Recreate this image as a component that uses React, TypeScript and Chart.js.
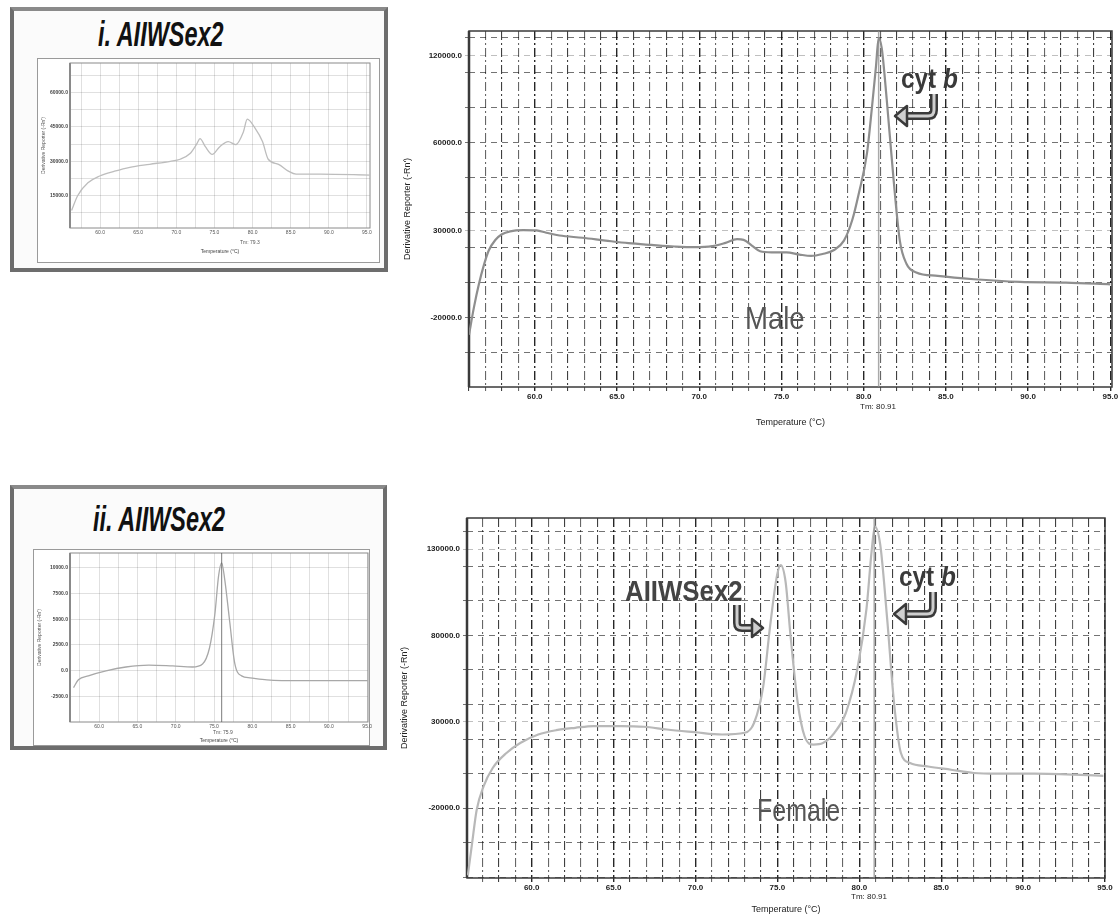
import React, { useEffect, useRef } from "react";
import { Chart, registerables } from "chart.js";

Chart.register(...registerables);

// ---------------- data ----------------
// Male (top, large): derivative melt curve
const maleTemp = [56.0, 56.3, 56.6, 56.9, 57.2, 57.6, 58.0, 58.5, 59.3, 60.1, 60.7, 61.5, 62.9, 64.3, 65.7, 67.1, 68.5, 69.7, 70.8, 71.6, 72.3, 72.7, 73.2, 73.7, 74.4, 75.3, 76.1, 76.8, 77.5, 78.2, 78.8, 79.3, 79.7, 80.2, 80.5, 80.75, 80.91, 81.1, 81.4, 81.8, 82.2, 82.6, 83.2, 84.5, 86.7, 89.5, 92.3, 95.0];
const maleDeriv = [-29600, -14000, -800, 10000, 18500, 24500, 27800, 29500, 30200, 30000, 28700, 27100, 25800, 24200, 22700, 21700, 20800, 20400, 21000, 22900, 25000, 24600, 21300, 18100, 17500, 17500, 16200, 15400, 16500, 18800, 24200, 35800, 51000, 74000, 100000, 124000, 140000, 134000, 105000, 61000, 24000, 11000, 6000, 4000, 2100, 600, 200, -800];

// Female (bottom, large)
const femaleTemp = [56.1, 56.36, 56.64, 57.06, 57.62, 58.46, 59.3, 60.4, 61.5, 62.66, 63.78, 65.46, 66.86, 68.26, 69.94, 71.62, 73.0, 73.58, 74.14, 74.56, 74.98, 75.2, 75.5, 75.8, 76.24, 76.66, 77.2, 77.78, 78.48, 79.18, 79.88, 80.44, 80.75, 80.95, 81.28, 81.7, 82.12, 82.54, 83.1, 84.2, 85.6, 87.0, 88.4, 90.7, 94.9];
const femaleDeriv = [-59000, -40500, -21100, -7500, 3200, 11900, 17700, 22600, 25100, 26500, 27500, 27500, 27100, 25500, 24000, 22600, 23600, 29400, 50800, 85800, 114900, 120700, 111000, 80000, 41000, 21600, 16800, 17700, 23600, 35200, 60500, 95500, 128500, 143000, 132400, 89700, 41000, 11900, 6100, 4100, 2200, 300, -100, -100, -1300];

// Inset i (AIIWSex2 only, male)
const insetITemp = [56.26, 57.05, 58.4, 59.95, 61.9, 63.9, 66.5, 69.2, 70.5, 71.8, 72.7, 73.1, 73.8, 74.7, 75.7, 76.8, 77.8, 78.8, 79.3, 80.3, 81.3, 82.05, 83.4, 84.7, 85.7, 88.9, 95.4];
const insetIDeriv = [8570, 15000, 20600, 23600, 25700, 27400, 28700, 30000, 30900, 33400, 37700, 39900, 36400, 33000, 36400, 38600, 37300, 42900, 48400, 44600, 38600, 30900, 28700, 25700, 24400, 24400, 24000];

// Inset ii (AIIWSex2 only, female)
const insetIITemp = [56.66, 57.3, 58.6, 60.9, 63.5, 66.5, 69.6, 72.2, 73.5, 74.4, 75.1, 75.6, 76.0, 76.4, 77.05, 77.7, 78.6, 79.7, 81.9, 86.3, 90.6, 95.1];
const insetIIDeriv = [-1640, -880, -500, -20, 360, 550, 460, 360, 650, 2180, 5420, 9240, 10480, 8850, 4750, 740, -500, -690, -880, -970, -970, -970];

// tick labels
const xTickValues = [60, 65, 70, 75, 80, 85, 90, 95];
const bigYTickValues = [-20000, 30000, 80000, 130000];
const maleYTickLabels = ["-20000.0", "30000.0", "60000.0", "120000.0"];
const femaleYTickLabels = ["-20000.0", "30000.0", "80000.0", "130000.0"];
const insetIYTickValues = [15000, 30000, 45000, 60000];
const insetIYTickLabels = ["15000.0", "30000.0", "45000.0", "60000.0"];
const insetIIYTickValues = [-2500, 0, 2500, 5000, 7500, 10000];
const insetIIYTickLabels = ["-2500.0", "0.0", "2500.0", "5000.0", "7500.0", "10000.0"];
const maleTm = 80.91;
const femaleTm = 80.91;
const insetIITm = 76.0;

// ---------------- helpers ----------------
const SANS = '"Liberation Sans", Arial, sans-serif';
const NARROW = '"Liberation Sans Narrow", "Liberation Sans", Arial, sans-serif';

const framePlugin = {
  id: "frame",
  beforeDatasetsDraw(chart: any, _a: any, opts: any) {
    const { ctx, chartArea: a } = chart;
    ctx.save();
    ctx.strokeStyle = opts.color || "#333";
    ctx.lineWidth = opts.width || 1;
    ctx.strokeRect(a.left, a.top, a.right - a.left, a.bottom - a.top);
    if (opts.leftWidth) {
      ctx.lineWidth = opts.leftWidth;
      ctx.beginPath();
      ctx.moveTo(a.left, a.top);
      ctx.lineTo(a.left, a.bottom);
      ctx.stroke();
    }
    ctx.restore();
  },
};

function toPoints(t: number[], v: number[]) {
  return t.map((x, i) => ({ x, y: v[i] }));
}

function range(from: number, to: number, step: number) {
  const out: number[] = [];
  for (let v = Math.ceil(from / step) * step; v <= to + 1e-9; v += step) out.push(Math.round(v * 1000) / 1000);
  return out;
}

function bigConfig(o: any) {
  const gridX = range(o.xr[0], o.xr[1], 1);
  const gridY = range(o.yr[0], o.yr[1], 20000);
  o.yVals.forEach((v: number) => { if (!gridY.includes(v)) gridY.push(v); });
  gridY.sort((a, b) => a - b);
  return {
    type: "line",
    data: {
      datasets: [
        {
          data: [{ x: o.tm, y: o.yr[0] }, { x: o.tm, y: o.yr[1] }],
          borderColor: "rgba(140,140,140,0.75)",
          borderWidth: 1.5,
          pointRadius: 0,
        },
        {
          data: toPoints(o.temps, o.vals),
          borderColor: o.color,
          borderWidth: 2.2,
          pointRadius: 0,
          cubicInterpolationMode: "monotone",
        },
      ],
    },
    options: {
      responsive: false,
      animation: false,
      events: [],
      layout: { padding: { top: o.pt, right: o.pr, left: 0, bottom: 0 } },
      plugins: {
        legend: { display: false },
        tooltip: { enabled: false },
        frame: { color: "#3a3a3a", width: 1.5, leftWidth: 2.5 },
      },
      scales: {
        x: {
          type: "linear",
          min: o.xr[0],
          max: o.xr[1],
          afterBuildTicks: (s: any) => { s.ticks = gridX.map((v) => ({ value: v })); },
          afterFit: (s: any) => { s.height = o.xh; },
          ticks: {
            autoSkip: false,
            maxRotation: 0,
            padding: 1,
            color: "#222",
            font: { family: NARROW, size: 8, weight: "bold" },
            callback: (v: number) => (xTickValues.includes(v) ? Number(v).toFixed(1) : ""),
          },
          grid: {
            color: (c: any) => {
              const v = c.tick ? c.tick.value : 0;
              if (v % 5 === 0) return "rgba(0,0,0,0.85)";
              return v % 2 === 0 ? "rgba(0,0,0,0.75)" : "rgba(0,0,0,0.6)";
            },
            lineWidth: (c: any) => (c.tick && c.tick.value % 5 === 0 ? 1.4 : 1.1),
            tickLength: 4,
          },
          border: { display: false, dash: [9, 3, 2, 3] },
          title: {
            display: true,
            text: "Temperature (°C)",
            color: "#222",
            font: { family: NARROW, size: 9 },
            padding: { top: 0, bottom: o.xtpb },
          },
        },
        y: {
          type: "linear",
          min: o.yr[0],
          max: o.yr[1],
          afterBuildTicks: (s: any) => { s.ticks = gridY.map((v) => ({ value: v })); },
          afterFit: (s: any) => { s.width = o.yw; },
          ticks: {
            autoSkip: false,
            padding: 3,
            color: "#222",
            font: { family: NARROW, size: 8, weight: "bold" },
            callback: (v: number) => {
              const i = o.yVals.indexOf(v);
              return i >= 0 ? o.yLabels[i] : "";
            },
          },
          grid: {
            color: (c: any) => (c.tick && c.tick.value % 20000 === 0 ? "rgba(0,0,0,0.55)" : "rgba(0,0,0,0.25)"),
            lineWidth: 1,
            tickLength: 4,
          },
          border: { display: false, dash: [6, 5] },
          title: {
            display: true,
            text: "Derivative Reporter (-Rn')",
            color: "#222",
            font: { family: NARROW, size: 9 },
            padding: { top: o.ytpt, bottom: 0 },
          },
        },
      },
    },
    plugins: [framePlugin],
  };
}

function insetConfig(o: any) {
  const gridX = range(o.xr[0], o.xr[1], 2.5);
  const gridY = range(o.yr[0], o.yr[1], o.yStep);
  const datasets: any[] = [];
  if (o.tm) {
    datasets.push({
      data: [{ x: o.tm, y: o.yr[0] }, { x: o.tm, y: o.yr[1] }],
      borderColor: "rgba(90,90,90,0.8)",
      borderWidth: 1,
      pointRadius: 0,
    });
  }
  datasets.push({
    data: toPoints(o.temps, o.vals),
    borderColor: o.color,
    borderWidth: 1.3,
    pointRadius: 0,
    cubicInterpolationMode: "monotone",
  });
  return {
    type: "line",
    data: { datasets },
    options: {
      responsive: false,
      animation: false,
      events: [],
      layout: { padding: { top: o.pt, right: o.pr, left: 0, bottom: 0 } },
      plugins: {
        legend: { display: false },
        tooltip: { enabled: false },
        frame: { color: "#8a8a8a", width: 1, leftWidth: 2 },
      },
      scales: {
        x: {
          type: "linear",
          min: o.xr[0],
          max: o.xr[1],
          afterBuildTicks: (s: any) => { s.ticks = gridX.map((v) => ({ value: v })); },
          afterFit: (s: any) => { s.height = o.xh; },
          ticks: {
            autoSkip: false,
            maxRotation: 0,
            padding: 2,
            color: "#555",
            font: { family: SANS, size: 5 },
            callback: (v: number) => (xTickValues.includes(v) ? Number(v).toFixed(1) : ""),
          },
          grid: { color: "rgba(0,0,0,0.12)", lineWidth: 1, drawTicks: false },
          border: { display: false },
          title: {
            display: true,
            text: "Temperature (°C)",
            color: "#444",
            font: { family: SANS, size: 5 },
            padding: { top: 0, bottom: o.xtpb },
          },
        },
        y: {
          type: "linear",
          min: o.yr[0],
          max: o.yr[1],
          afterBuildTicks: (s: any) => { s.ticks = gridY.map((v) => ({ value: v })); },
          afterFit: (s: any) => { s.width = o.yw; },
          ticks: {
            autoSkip: false,
            padding: 2,
            color: "#444",
            font: { family: SANS, size: 5, weight: "bold" },
            callback: (v: number) => {
              const i = o.yVals.indexOf(v);
              return i >= 0 ? o.yLabels[i] : "";
            },
          },
          grid: { color: "rgba(0,0,0,0.12)", lineWidth: 1, drawTicks: false },
          border: { display: false },
          title: {
            display: true,
            text: "Derivative Reporter (-Rn')",
            color: "#555",
            font: { family: SANS, size: 5 },
            padding: { top: o.ytpt, bottom: 0 },
          },
        },
      },
    },
    plugins: [framePlugin],
  };
}

function ChartCanvas({ x, y, w, h, make }: any) {
  const ref = useRef<HTMLCanvasElement>(null);
  useEffect(() => {
    const chart = new Chart(ref.current as HTMLCanvasElement, make() as any);
    return () => chart.destroy();
  }, []);
  return (
    <canvas
      ref={ref}
      width={w}
      height={h}
      style={{ position: "absolute", left: x, top: y, width: w, height: h }}
    />
  );
}

const abs = (left: number, top: number, extra: any = {}) => ({
  position: "absolute" as const,
  left,
  top,
  whiteSpace: "nowrap" as const,
  lineHeight: 1,
  ...extra,
});

function HookArrow({ dx = 0, dy = 0 }: { dx?: number; dy?: number }) {
  // hollow "return" arrow pointing left
  const d = `M ${934 + dx} ${94 + dy} L ${934 + dx} ${110 + dy} Q ${934 + dx} ${116 + dy} ${928 + dx} ${116 + dy} L ${906 + dx} ${116 + dy}`;
  const head = `${895 + dx},${116 + dy} ${907 + dx},${106 + dy} ${907 + dx},${126 + dy}`;
  return (
    <g>
      <path d={d} stroke="#3a3a3a" strokeWidth={8} fill="none" />
      <path d={d} stroke="#cfcfcf" strokeWidth={3} fill="none" />
      <polygon points={head} fill="#cfcfcf" stroke="#3a3a3a" strokeWidth={2.5} strokeLinejoin="round" />
    </g>
  );
}

const titleStyle = { fontFamily: NARROW, fontWeight: "bold", fontStyle: "italic", fontSize: 35, color: "#111", transform: "scaleX(0.67)", transformOrigin: "left top" };
const squeeze = (s: number) => ({ transform: `scaleX(${s})`, transformOrigin: "left top" });

export default function App() {
  return (
    <div style={{ position: "absolute", left: 0, top: 0, width: 1120, height: 915, background: "#fff", overflow: "hidden" }}>
      {/* Inset i frame */}
      <div style={{ position: "absolute", left: 10, top: 7, width: 378, height: 265, boxSizing: "border-box", border: "4px solid #6d6d6d", borderTopColor: "#8a8a8a", background: "#fbfbfb" }} />
      <div style={{ position: "absolute", left: 37, top: 58, width: 343, height: 205, boxSizing: "border-box", border: "1px solid #9a9a9a", background: "#fff" }} />
      <div style={abs(98, 16, titleStyle)}>i. AIIWSex2</div>

      {/* Inset ii frame */}
      <div style={{ position: "absolute", left: 10, top: 485, width: 377, height: 265, boxSizing: "border-box", border: "4px solid #6d6d6d", borderTopColor: "#8a8a8a", background: "#fbfbfb" }} />
      <div style={{ position: "absolute", left: 33, top: 549, width: 337, height: 197, boxSizing: "border-box", border: "1px solid #9a9a9a", background: "#fff" }} />
      <div style={abs(93, 501, titleStyle)}>ii. AIIWSex2</div>

      {/* Inset i chart */}
      <ChartCanvas
        x={37} y={58} w={343} h={200}
        make={() =>
          insetConfig({
            temps: insetITemp, vals: insetIDeriv, color: "#bdbdbd",
            xr: [56.05, 95.4], yr: [900, 72900], yStep: 7500,
            yVals: insetIYTickValues, yLabels: insetIYTickLabels,
            pt: 2, pr: 10, yw: 33, xh: 30, xtpb: 3, ytpt: 4,
          })
        }
      />
      {/* Inset ii chart */}
      <ChartCanvas
        x={33} y={548} w={345} h={198}
        make={() =>
          insetConfig({
            temps: insetIITemp, vals: insetIIDeriv, color: "#a8a8a8", tm: insetIITm,
            xr: [56.2, 95.1], yr: [-4980, 11430], yStep: 2500,
            yVals: insetIIYTickValues, yLabels: insetIIYTickLabels,
            pt: 2, pr: 10, yw: 37, xh: 24, xtpb: 2, ytpt: 4,
          })
        }
      />

      {/* Large male chart */}
      <ChartCanvas
        x={395} y={0} w={725} h={440}
        make={() =>
          bigConfig({
            temps: maleTemp, vals: maleDeriv, color: "#8e8e8e", tm: maleTm,
            xr: [56.0, 95.1], yr: [-59500, 144000],
            yVals: bigYTickValues, yLabels: maleYTickLabels,
            pt: 31, pr: 8, yw: 74, xh: 53, xtpb: 12, ytpt: 7,
          })
        }
      />
      {/* Large female chart */}
      <ChartCanvas
        x={395} y={470} w={725} h={445}
        make={() =>
          bigConfig({
            temps: femaleTemp, vals: femaleDeriv, color: "#b8b8b8", tm: femaleTm,
            xr: [56.05, 95.0], yr: [-60500, 148000],
            yVals: bigYTickValues, yLabels: femaleYTickLabels,
            pt: 48, pr: 15, yw: 72, xh: 37, xtpb: 0, ytpt: 4,
          })
        }
      />

      {/* small texts */}
      <div style={abs(240, 240, { fontFamily: SANS, fontSize: 5, color: "#555" })}>Tm: 79.3</div>
      <div style={abs(213, 730, { fontFamily: SANS, fontSize: 5, color: "#555" })}>Tm: 75.9</div>
      <div style={abs(860, 403, { fontFamily: NARROW, fontSize: 8, color: "#222" })}>Tm: 80.91</div>
      <div style={abs(851, 893, { fontFamily: NARROW, fontSize: 8, color: "#222" })}>Tm: 80.91</div>

      {/* annotations */}
      <div style={abs(901, 66, { fontFamily: SANS, fontWeight: "bold", fontSize: 27, color: "#3a3a3a", ...squeeze(0.9) })}>cyt <i>b</i></div>
      <div style={abs(899, 564, { fontFamily: SANS, fontWeight: "bold", fontSize: 27, color: "#3a3a3a", ...squeeze(0.9) })}>cyt <i>b</i></div>
      <div style={abs(745, 302, { fontFamily: SANS, fontSize: 32, color: "#555", ...squeeze(0.86) })}>Male</div>
      <div style={abs(757, 794, { fontFamily: SANS, fontSize: 32, color: "#555", ...squeeze(0.78) })}>Female</div>
      <div style={abs(625, 576, { fontFamily: SANS, fontWeight: "bold", fontSize: 30, color: "#444", ...squeeze(0.86) })}>AIIWSex2</div>

      <svg width={1120} height={915} style={{ position: "absolute", left: 0, top: 0, pointerEvents: "none" }}>
        <HookArrow />
        <HookArrow dx={-1} dy={498} />
        <g>
          <path d="M 737 605 L 737 623 Q 737 628 742 628 L 753 628" stroke="#3a3a3a" strokeWidth={8} fill="none" />
          <path d="M 737 605 L 737 623 Q 737 628 742 628 L 753 628" stroke="#cfcfcf" strokeWidth={3} fill="none" />
          <polygon points="763,628 752,619 752,637" fill="#cfcfcf" stroke="#3a3a3a" strokeWidth={2.5} strokeLinejoin="round" />
        </g>
      </svg>
    </div>
  );
}
